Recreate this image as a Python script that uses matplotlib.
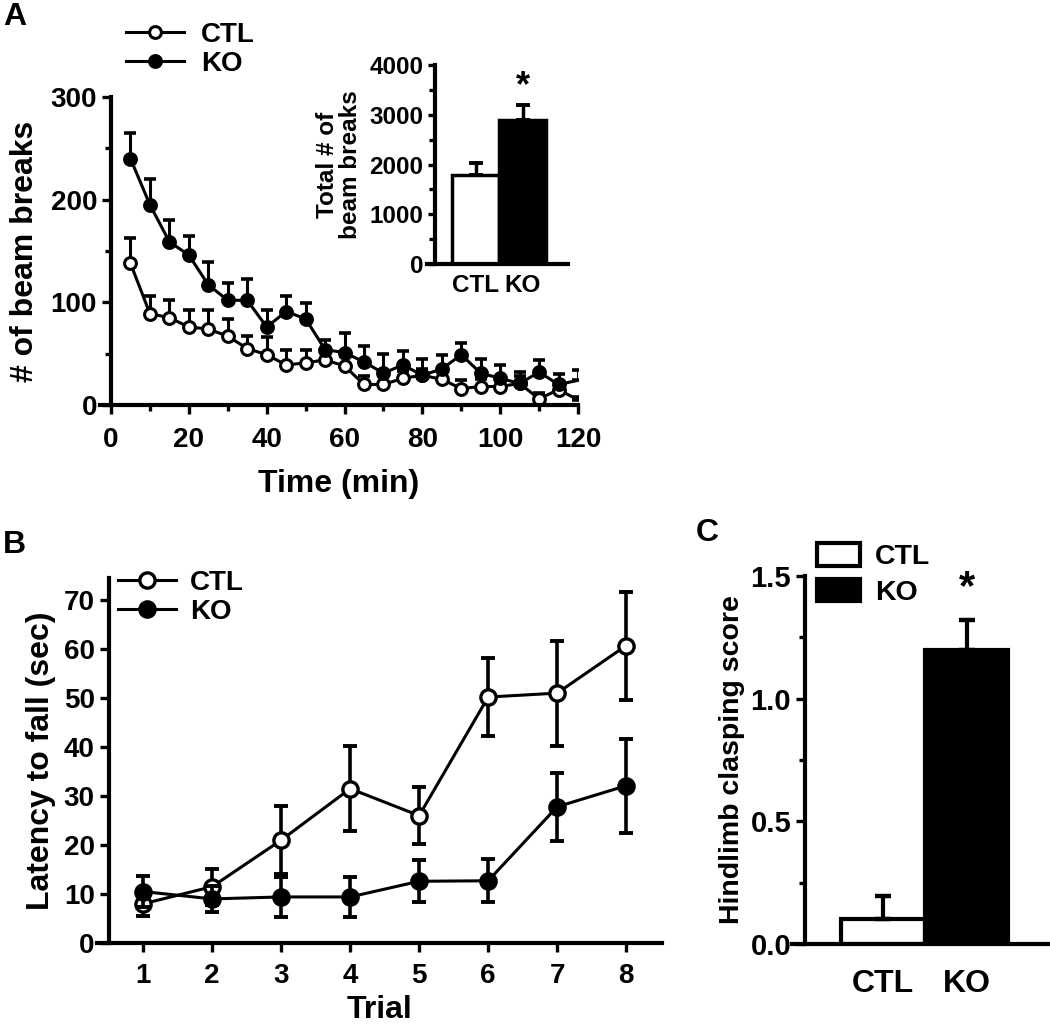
import matplotlib
matplotlib.use("Agg")
import matplotlib.pyplot as plt
import numpy as np
from matplotlib.ticker import MultipleLocator, FormatStrFormatter
from matplotlib.patches import Patch

plt.rcParams['font.family'] = ['Liberation Sans', 'DejaVu Sans']
plt.rcParams['font.weight'] = 'bold'

# Panel A: beam breaks over time
time_min = [5, 10, 15, 20, 25, 30, 35, 40, 45, 50, 55, 60,
            65, 70, 75, 80, 85, 90, 95, 100, 105, 110, 115, 120]
ctl_beam = [138, 89, 85, 76, 74, 67, 55, 49, 39, 41, 44, 38,
            20, 20, 26, 29, 25, 16, 18, 18, 21, 6, 15, 5]
ctl_beam_err = [25, 17, 17, 17, 19, 17, 12, 17, 15, 13, 8, 10,
                8, 8, 7, 6, 8, 8, 7, 7, 7, 6, 5, 3]
ko_beam = [240, 195, 159, 146, 117, 102, 102, 76, 91, 84, 54, 51,
           42, 31, 39, 29, 35, 49, 31, 26, 21, 32, 20, 24]
ko_beam_err = [25, 25, 21, 19, 22, 17, 21, 17, 15, 15, 9, 19,
               15, 19, 14, 16, 14, 11, 14, 13, 11, 12, 10, 10]

# Inset: total beam breaks
groups = ['CTL', 'KO']
total_beam = [1790, 2895]
total_beam_err = [240, 300]

# Panel B: rotarod latency
trials = [1, 2, 3, 4, 5, 6, 7, 8]
ctl_latency = [8.0, 11.5, 21.0, 31.5, 26.0, 50.2, 51.0, 60.7]
ctl_latency_err = [2.5, 3.7, 7.0, 8.7, 5.8, 8.0, 10.7, 11.0]
ko_latency = [10.5, 9.0, 9.4, 9.4, 12.6, 12.7, 27.8, 32.1]
ko_latency_err = [3.2, 2.7, 4.1, 4.1, 4.3, 4.4, 6.9, 9.6]

# Panel C: hindlimb clasping
clasp = [0.10, 1.20]
clasp_err = [0.095, 0.12]

W, H = 1050, 1026
fig = plt.figure(figsize=(W / 100, H / 100), dpi=100)


def rect(left, right, top, bottom):
    return [left / W, (H - bottom) / H, (right - left) / W, (bottom - top) / H]


def style_axes(ax, lw=3.0, labelsize=20):
    for s in ['top', 'right']:
        ax.spines[s].set_visible(False)
    for s in ['left', 'bottom']:
        ax.spines[s].set_linewidth(lw)
    ax.tick_params(which='major', direction='out', length=6.5, width=2.4, labelsize=labelsize)
    ax.tick_params(which='minor', direction='out', length=4.5, width=2.4)


LW = 2.2
MS = 8.5

# ---- A ----
axA = fig.add_axes(rect(100, 578, 97, 405))
style_axes(axA)
axA.spines['left'].set_position(('data', 0))
axA.set_xlim(-2.83, 120)
axA.set_ylim(0, 300)
mk = list(range(len(time_min) - 1))
axA.errorbar(time_min, ctl_beam, yerr=[np.zeros(len(ctl_beam)), ctl_beam_err],
             fmt='none', ecolor='k', elinewidth=LW, capsize=4, capthick=2.6)
lA1, = axA.plot(time_min, ctl_beam, '-o', color='k', lw=LW, ms=MS, mfc='white',
                mec='k', mew=2.2, markevery=mk)
axA.errorbar(time_min, ko_beam, yerr=[np.zeros(len(ko_beam)), ko_beam_err],
             fmt='none', ecolor='k', elinewidth=LW, capsize=4, capthick=2.6)
lA2, = axA.plot(time_min, ko_beam, '-o', color='k', lw=LW, ms=MS, mfc='k',
                mec='k', mew=2.2, markevery=mk)
axA.set_xticks([0, 20, 40, 60, 80, 100, 120])
axA.xaxis.set_minor_locator(MultipleLocator(10))
axA.yaxis.set_major_locator(MultipleLocator(100))
axA.yaxis.set_minor_locator(MultipleLocator(50))
axA.tick_params(axis='x', which='major', pad=9)
axA.set_xlabel('Time (min)', fontsize=23, fontweight='bold', labelpad=12)
axA.set_ylabel('# of beam breaks', fontsize=23, fontweight='bold', labelpad=8)
fig.legend([lA1, lA2], ['CTL', 'KO'], loc='upper left', bbox_to_anchor=(126 / W, 1 - 22 / H),
           frameon=False, fontsize=20, handlelength=2.1, handletextpad=0.6,
           labelspacing=0.1, borderpad=0, borderaxespad=0)
fig.text(3 / W, 1 - 17 / H, 'A', fontsize=23, fontweight='bold', va='center', ha='left')

# ---- inset ----
axI = fig.add_axes(rect(427, 568, 65, 264))
style_axes(axI, labelsize=17.5)
axI.tick_params(which='major', length=5)
axI.tick_params(which='minor', length=4)
axI.spines['left'].set_position(('data', -0.87))
axI.set_xlim(-1.04, 1.96)
axI.set_ylim(0, 4000)
axI.bar([0, 1], total_beam, width=1.0, color=['white', 'k'], edgecolor='k', linewidth=2.5,
        yerr=[[0, 0], total_beam_err], capsize=5,
        error_kw=dict(elinewidth=2.5, capthick=2.8, ecolor='k'))
axI.set_xticks([0, 1])
axI.set_xticklabels(groups)
axI.tick_params(axis='x', length=0, pad=7)
axI.yaxis.set_major_locator(MultipleLocator(1000))
axI.yaxis.set_minor_locator(MultipleLocator(500))
axI.set_ylabel('Total # of\nbeam breaks', fontsize=17.5, fontweight='bold', labelpad=5,
               linespacing=1.0)
axI.text(1, 3560, '*', fontsize=26, fontweight='bold', ha='center', va='center')

# ---- B ----
axB = fig.add_axes(rect(97, 662, 578, 943))
style_axes(axB)
axB.spines['left'].set_position(('data', 0.5))
axB.set_xlim(0.33, 8.52)
axB.set_ylim(0, 74.5)
axB.errorbar(trials, ctl_latency, yerr=ctl_latency_err, fmt='none', ecolor='k',
             elinewidth=2.6, capsize=5, capthick=2.8)
lB1, = axB.plot(trials, ctl_latency, '-o', color='k', lw=LW, ms=11, mfc='white',
                mec='k', mew=2.4)
axB.errorbar(trials, ko_latency, yerr=ko_latency_err, fmt='none', ecolor='k',
             elinewidth=2.6, capsize=5, capthick=2.8)
lB2, = axB.plot(trials, ko_latency, '-o', color='k', lw=LW, ms=11, mfc='k',
                mec='k', mew=2.4)
axB.set_xticks(trials)
axB.yaxis.set_major_locator(MultipleLocator(10))
axB.tick_params(axis='x', which='major', pad=8)
axB.set_xlabel('Trial', fontsize=23, fontweight='bold', labelpad=4)
axB.set_ylabel('Latency to fall (sec)', fontsize=23, fontweight='bold', labelpad=6)
fig.legend([lB1, lB2], ['CTL', 'KO'], loc='upper left', bbox_to_anchor=(118 / W, 1 - 570 / H),
           frameon=False, fontsize=20, handlelength=2.1, handletextpad=0.5,
           labelspacing=0.1, borderpad=0, borderaxespad=0)
fig.text(3 / W, 1 - 545 / H, 'B', fontsize=23, fontweight='bold', va='center', ha='left')

# ---- C ----
axC = fig.add_axes(rect(792, 1050, 576, 944))
style_axes(axC, labelsize=21)
axC.spines['left'].set_position(('data', -0.934))
axC.set_xlim(-1.09, 2.0)
axC.set_ylim(0, 1.5)
axC.bar([0, 1], clasp, width=1.0, color=['white', 'k'], edgecolor='k', linewidth=3,
        yerr=[[0, 0], clasp_err], capsize=6,
        error_kw=dict(elinewidth=3, capthick=3.2, ecolor='k'))
axC.set_xticks([0, 1])
axC.set_xticklabels(groups)
axC.tick_params(axis='x', length=0, pad=18, labelsize=23)
axC.yaxis.set_major_locator(MultipleLocator(0.5))
axC.yaxis.set_minor_locator(MultipleLocator(0.25))
axC.yaxis.set_major_formatter(FormatStrFormatter('%.1f'))
axC.set_ylabel('Hindlimb clasping score', fontsize=20.5, fontweight='bold', labelpad=4)
axC.text(1, 1.45, '*', fontsize=30, fontweight='bold', ha='center', va='center')
handlesC = [Patch(facecolor='white', edgecolor='k', linewidth=3),
            Patch(facecolor='k', edgecolor='k', linewidth=3)]
fig.legend(handlesC, groups, loc='upper left', bbox_to_anchor=(817 / W, 1 - 543 / H),
           frameon=False, fontsize=20.5, handlelength=1.5, handleheight=0.85,
           handletextpad=0.55, labelspacing=0.3, borderpad=0, borderaxespad=0)
fig.text(707 / W, 1 - 533 / H, 'C', fontsize=23, fontweight='bold', va='center', ha='center')

fig.savefig('out.png', dpi=100)
